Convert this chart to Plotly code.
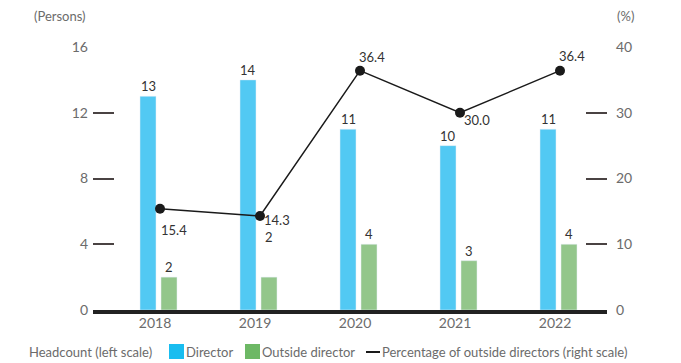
import plotly.graph_objects as go

# Board composition by fiscal year
years = ["2018", "2019", "2020", "2021", "2022"]
directors = [13, 14, 11, 10, 11]
outside_directors = [2, 2, 4, 3, 4]
outside_pct = [15.4, 14.3, 36.4, 30.0, 36.4]

left_ticks = [0, 4, 8, 12, 16]
right_ticks = [0, 10, 20, 30, 40]

FONT = "Lato"
GRAY = "#6b6b6b"
DARK = "#333333"
BAR_BLUE = "#52c9f3"
BAR_GREEN = "#93c68b"
KEY_BLUE = "#19bdf0"
KEY_GREEN = "#6db865"
LINE = "#1a1a1a"

# plot area in pixels (for legend placement in paper units)
L, R, T, B = 93, 607, 47, 310


def px(x):
    return (x - L) / (R - L)


def py(y):
    return (B - y) / (B - T)


fig = go.Figure()

fig.add_bar(x=years, y=directors, name="Director", marker_color=BAR_BLUE,
            width=0.16, offset=-0.20, showlegend=False)
fig.add_bar(x=years, y=outside_directors, name="Outside director",
            marker_color=BAR_GREEN, width=0.16, offset=0.01, showlegend=False)
fig.add_scatter(x=years, y=outside_pct, yaxis="y2", mode="lines+markers",
                line=dict(color=LINE, width=1.5),
                marker=dict(color=LINE, size=10), showlegend=False,
                cliponaxis=False)

label_font = dict(family=FONT, size=13, color=DARK)
annotations = []
# value labels on the bars (x given as category index)
for i, v in enumerate(directors):
    annotations.append(dict(x=i, y=v, text=str(v), xref="x", yref="y",
                            showarrow=False, xanchor="center", yanchor="bottom",
                            xshift=-12, yshift=0, font=label_font))
outside_shift = [0, 30, 0, 0, 0]
for i, (v, s) in enumerate(zip(outside_directors, outside_shift)):
    annotations.append(dict(x=i, y=v, text=str(v), xref="x", yref="y",
                            showarrow=False, xanchor="center", yanchor="bottom",
                            xshift=9, yshift=s, font=label_font))

# percentage labels next to the line points
pct_pos = [(14, -21), (17, -4), (12, 14), (17, -7), (12, 15)]
for i, (v, (dx, dy)) in enumerate(zip(outside_pct, pct_pos)):
    annotations.append(dict(x=i, y=v, text=f"{v:.1f}", xref="x", yref="y2",
                            showarrow=False, xanchor="center", yanchor="middle",
                            xshift=dx, yshift=dy, font=label_font))

# axis unit captions
annotations.append(dict(x=px(88), y=py(16), xref="paper", yref="paper",
                        text="(Persons)", showarrow=False, xanchor="right",
                        yanchor="middle",
                        font=dict(family=FONT, size=13, color=GRAY)))
annotations.append(dict(x=px(615), y=py(16), xref="paper", yref="paper",
                        text="(%)", showarrow=False, xanchor="left",
                        yanchor="middle",
                        font=dict(family=FONT, size=13, color=GRAY)))

# legend row
leg_y = py(352)
legend_texts = [(27, "Headcount (left scale)"), (184, "Director"),
                (260, "Outside director"),
                (380, "Percentage of outside directors (right scale)")]
for x0, t in legend_texts:
    annotations.append(dict(x=px(x0), y=leg_y, xref="paper", yref="paper",
                            text=t, showarrow=False, xanchor="left",
                            yanchor="middle",
                            font=dict(family=FONT, size=13, color=GRAY)))

shapes = [
    dict(type="rect", xref="paper", yref="paper", x0=px(169), x1=px(184),
         y0=py(359), y1=py(344), fillcolor=KEY_BLUE, line_width=0),
    dict(type="rect", xref="paper", yref="paper", x0=px(245), x1=px(260),
         y0=py(359), y1=py(344), fillcolor=KEY_GREEN, line_width=0),
    dict(type="line", xref="paper", yref="paper", x0=px(366), x1=px(380),
         y0=leg_y, y1=leg_y, line=dict(color=LINE, width=2)),
]

fig.update_layout(
    width=681, height=363,
    margin=dict(l=L, r=681 - R, t=T, b=363 - B),
    paper_bgcolor="white", plot_bgcolor="white",
    barmode="overlay",
    font=dict(family=FONT, size=14, color=GRAY),
    xaxis=dict(type="category", range=[-0.67, 4.47], showgrid=False,
               showline=True, linecolor="#222222", linewidth=4,
               ticks="", tickfont=dict(size=14, color=GRAY),
               ticklabelshift=-5, ticklabelstandoff=-3),
    yaxis=dict(range=[0, 16], tickvals=left_ticks, showgrid=False,
               zeroline=False, showline=False, ticks="inside", ticklen=21,
               tickwidth=1.5, tickcolor="#4a4343",
               tickfont=dict(size=14, color=GRAY), ticklabelstandoff=4),
    yaxis2=dict(range=[0, 40], tickvals=right_ticks, overlaying="y",
                side="right", showgrid=False, zeroline=False, showline=False,
                ticks="inside", ticklen=21, tickwidth=1.5, tickcolor="#4a4343",
                tickfont=dict(size=14, color=GRAY), ticklabelstandoff=8),
    annotations=annotations,
    shapes=shapes,
)

fig.write_html("out.html")
